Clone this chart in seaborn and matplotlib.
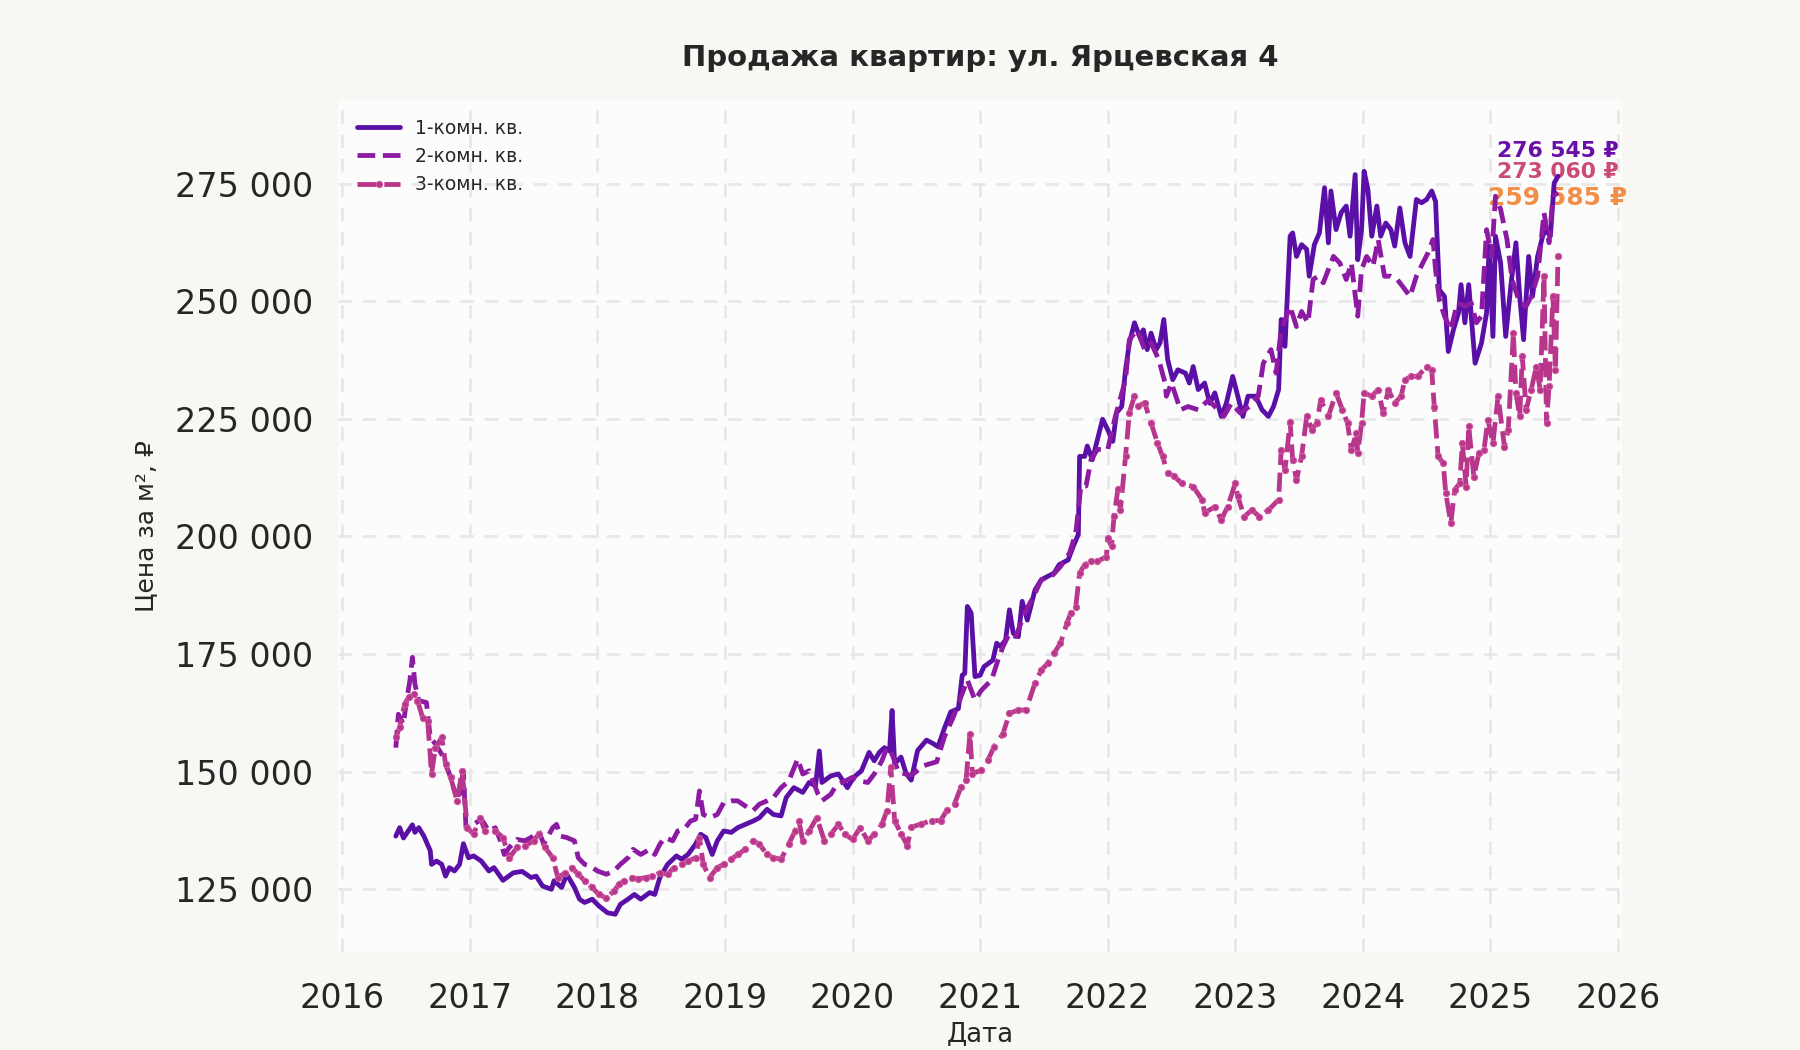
import numpy as np
import pandas as pd
import seaborn as sns
import matplotlib.pyplot as plt
from matplotlib.ticker import FuncFormatter

OUTPUT_PATH = "out.png"

TITLE = "Продажа квартир: ул. Ярцевская 4"
SERIES_NAMES = ["1-комн. кв.", "2-комн. кв.", "3-комн. кв."]
YEAR_TICKS = list(range(2016, 2027))
PRICE_TICKS = [125000, 150000, 175000, 200000, 225000, 250000, 275000]

# 1-комн.: (год, тыс. руб. за м²)
dates_1 = [
    2016.42, 2016.45, 2016.48, 2016.55, 2016.57, 2016.60, 2016.64, 2016.69, 2016.70, 2016.74,
    2016.78, 2016.81, 2016.84, 2016.88, 2016.92, 2016.95, 2016.99, 2017.03, 2017.09, 2017.15,
    2017.19, 2017.26, 2017.34, 2017.41, 2017.48, 2017.52, 2017.57, 2017.64, 2017.66, 2017.72,
    2017.76, 2017.82, 2017.86, 2017.90, 2017.96, 2018.01, 2018.08, 2018.14, 2018.18, 2018.24,
    2018.29, 2018.34, 2018.41, 2018.45, 2018.49, 2018.55, 2018.62, 2018.66, 2018.71, 2018.77,
    2018.81, 2018.85, 2018.90, 2018.94, 2018.99, 2019.05, 2019.10, 2019.16, 2019.22, 2019.27,
    2019.33, 2019.38, 2019.44, 2019.48, 2019.54, 2019.61, 2019.66, 2019.71, 2019.74, 2019.76,
    2019.83, 2019.89, 2019.96, 2020.01, 2020.07, 2020.13, 2020.17, 2020.21, 2020.25, 2020.29,
    2020.31, 2020.33, 2020.38, 2020.42, 2020.46, 2020.51, 2020.58, 2020.63, 2020.67, 2020.72,
    2020.77, 2020.83, 2020.86, 2020.88, 2020.90, 2020.93, 2020.96, 2021.00, 2021.03, 2021.10,
    2021.13, 2021.16, 2021.20, 2021.23, 2021.26, 2021.30, 2021.33, 2021.37, 2021.43, 2021.48,
    2021.53, 2021.58, 2021.62, 2021.69, 2021.73, 2021.77, 2021.78, 2021.82, 2021.84, 2021.88,
    2021.92, 2021.96, 2022.00, 2022.04, 2022.07, 2022.11, 2022.14, 2022.17, 2022.21, 2022.25,
    2022.28, 2022.31, 2022.34, 2022.38, 2022.41, 2022.44, 2022.47, 2022.51, 2022.55, 2022.61,
    2022.64, 2022.67, 2022.71, 2022.76, 2022.80, 2022.84, 2022.89, 2022.93, 2022.98, 2023.02,
    2023.06, 2023.10, 2023.16, 2023.21, 2023.26, 2023.30, 2023.34, 2023.36, 2023.39, 2023.43,
    2023.45, 2023.48, 2023.52, 2023.56, 2023.58, 2023.62, 2023.66, 2023.70, 2023.73, 2023.75,
    2023.79, 2023.83, 2023.87, 2023.90, 2023.94, 2023.96, 2023.99, 2024.01, 2024.04, 2024.07,
    2024.11, 2024.14, 2024.18, 2024.22, 2024.25, 2024.29, 2024.33, 2024.37, 2024.42, 2024.46,
    2024.50, 2024.54, 2024.57, 2024.60, 2024.64, 2024.67, 2024.71, 2024.75, 2024.77, 2024.80,
    2024.83, 2024.88, 2024.93, 2024.97, 2024.99, 2025.02, 2025.04, 2025.08, 2025.12, 2025.16,
    2025.20, 2025.23, 2025.26, 2025.30, 2025.33, 2025.37, 2025.41, 2025.43, 2025.47, 2025.50,
    2025.53,
]
price_1 = [
    136.3, 138.1, 135.9, 138.7, 137.1, 138.1, 136.3, 133.2, 130.3, 131.0,
    130.3, 127.8, 129.6, 128.9, 130.3, 134.7, 131.7, 132.1, 131.0, 128.9,
    129.6, 126.9, 128.5, 128.8, 127.5, 127.8, 125.7, 125.0, 126.8, 125.4,
    128.2, 125.4, 122.9, 122.2, 122.9, 121.5, 120.0, 119.7, 121.8, 122.9,
    123.9, 122.9, 124.3, 123.9, 127.5, 130.3, 132.1, 131.4, 132.4, 134.6,
    136.7, 136.0, 132.4, 135.3, 137.4, 137.1, 138.1, 138.8, 139.5, 140.2,
    142.0, 140.9, 140.6, 144.5, 146.6, 145.6, 147.7, 147.0, 154.4, 147.7,
    149.1, 149.5, 146.6, 148.8, 150.2, 154.1, 152.3, 154.1, 155.1, 154.4,
    163.0, 151.7, 153.1, 149.6, 148.2, 154.5, 156.7, 156.0, 155.3, 159.2,
    162.7, 163.4, 170.5, 170.9, 185.1, 183.7, 170.2, 170.5, 172.3, 173.7,
    177.3, 176.6, 178.0, 184.4, 179.4, 178.7, 186.2, 182.2, 188.6, 190.8,
    191.5, 192.2, 194.0, 195.0, 197.9, 200.4, 217.0, 217.0, 219.2, 216.3,
    220.6, 224.9, 222.7, 220.2, 226.3, 227.6, 235.4, 241.1, 245.4, 242.5,
    243.9, 239.7, 243.2, 239.7, 241.1, 246.1, 237.6, 233.3, 235.4, 234.7,
    232.6, 236.1, 231.2, 232.6, 228.3, 230.5, 225.5, 228.3, 234.0, 229.8,
    225.5, 229.8, 229.8, 226.9, 225.5, 227.6, 231.2, 246.1, 240.4, 263.8,
    264.5, 259.5, 262.0, 261.0, 255.3, 262.0, 264.5, 274.1, 262.4, 273.4,
    265.2, 268.8, 270.2, 263.8, 276.9, 258.8, 265.2, 277.6, 273.7, 263.8,
    270.2, 263.8, 266.6, 265.2, 261.7, 269.8, 262.4, 259.5, 271.6, 270.9,
    271.6, 273.4, 271.2, 252.4, 251.0, 239.3, 243.9, 247.5, 253.5, 245.4,
    253.5, 236.8, 241.1, 247.5, 261.7, 242.5, 263.8, 258.1, 242.5, 253.2,
    262.4, 251.0, 241.8, 259.5, 251.0, 259.5, 263.8, 265.2, 263.8, 275.1,
    276.545,
]

# 2-комн.
dates_2 = [
    2016.42, 2016.44, 2016.48, 2016.50, 2016.53, 2016.55, 2016.57, 2016.60, 2016.66, 2016.69,
    2016.73, 2016.78, 2016.84, 2016.88, 2016.92, 2016.95, 2016.97, 2017.03, 2017.09, 2017.15,
    2017.20, 2017.24, 2017.27, 2017.31, 2017.37, 2017.43, 2017.48, 2017.54, 2017.58, 2017.65,
    2017.68, 2017.71, 2017.76, 2017.82, 2017.85, 2017.90, 2017.94, 2018.00, 2018.07, 2018.13,
    2018.18, 2018.24, 2018.28, 2018.34, 2018.41, 2018.45, 2018.49, 2018.53, 2018.59, 2018.63,
    2018.69, 2018.73, 2018.77, 2018.80, 2018.83, 2018.88, 2018.94, 2018.99, 2019.05, 2019.10,
    2019.16, 2019.22, 2019.27, 2019.33, 2019.38, 2019.44, 2019.50, 2019.57, 2019.61, 2019.66,
    2019.73, 2019.76, 2019.83, 2019.87, 2019.94, 2020.00, 2020.06, 2020.12, 2020.17, 2020.23,
    2020.27, 2020.31, 2020.36, 2020.46, 2020.56, 2020.66, 2020.72, 2020.79, 2020.86, 2020.90,
    2020.96, 2021.01, 2021.09, 2021.14, 2021.18, 2021.23, 2021.28, 2021.35, 2021.43, 2021.48,
    2021.56, 2021.63, 2021.70, 2021.75, 2021.79, 2021.83, 2021.87, 2021.92, 2022.00, 2022.06,
    2022.14, 2022.17, 2022.23, 2022.29, 2022.34, 2022.40, 2022.45, 2022.46, 2022.50, 2022.57,
    2022.63, 2022.71, 2022.79, 2022.84, 2022.91, 2022.97, 2023.04, 2023.11, 2023.18, 2023.22,
    2023.28, 2023.32, 2023.36, 2023.43, 2023.48, 2023.52, 2023.57, 2023.61, 2023.65, 2023.69,
    2023.73, 2023.77, 2023.82, 2023.87, 2023.91, 2023.96, 2023.99, 2024.03, 2024.08, 2024.12,
    2024.17, 2024.22, 2024.27, 2024.31, 2024.37, 2024.42, 2024.47, 2024.51, 2024.55, 2024.57,
    2024.60, 2024.64, 2024.69, 2024.74, 2024.80, 2024.85, 2024.89, 2024.93, 2024.97, 2025.01,
    2025.04, 2025.08, 2025.13, 2025.17, 2025.23, 2025.28, 2025.32, 2025.37, 2025.42, 2025.46,
    2025.49, 2025.53,
]
price_2 = [
    155.1, 162.2, 160.1, 164.4, 169.3, 174.3, 168.6, 165.1, 164.7, 157.3,
    155.9, 153.7, 149.5, 145.9, 145.2, 150.2, 138.1, 138.8, 139.9, 137.4,
    138.1, 135.3, 132.4, 133.9, 135.6, 135.3, 136.0, 137.4, 134.6, 138.1,
    138.8, 136.3, 136.0, 135.3, 131.7, 130.3, 130.0, 128.9, 128.2, 128.9,
    130.3, 131.7, 133.5, 132.4, 133.5, 132.4, 134.6, 136.0, 135.3, 137.4,
    138.1, 139.5, 139.9, 145.9, 140.9, 140.2, 140.9, 143.4, 143.8, 143.8,
    142.7, 141.7, 143.1, 143.8, 144.5, 146.6, 148.0, 152.7, 149.5, 150.2,
    145.2, 143.8, 145.2, 147.0, 148.0, 148.8, 148.0, 147.7, 149.5, 152.3,
    155.1, 153.7, 149.9, 149.2, 151.3, 152.1, 157.4, 161.6, 166.6, 169.5,
    165.2, 167.3, 169.5, 173.7, 176.6, 179.4, 178.7, 183.7, 187.9, 190.8,
    191.5, 193.6, 196.4, 200.7, 210.7, 210.7, 216.3, 218.5, 218.4, 225.5,
    233.3, 241.8, 243.9, 239.7, 241.1, 237.6, 232.6, 229.8, 232.6, 226.9,
    227.6, 226.9, 229.0, 227.6, 225.5, 228.3, 226.2, 227.6, 229.8, 236.8,
    239.7, 234.7, 243.9, 248.9, 244.6, 247.8, 245.4, 254.6, 255.3, 253.9,
    256.7, 259.5, 258.1, 254.6, 258.1, 246.8, 256.7, 259.5, 257.4, 263.1,
    255.3, 255.3, 254.6, 253.2, 251.0, 255.3, 258.1, 260.2, 263.1, 256.7,
    250.3, 246.8, 243.9, 249.6, 248.9, 249.6, 245.4, 246.8, 265.2, 259.5,
    272.3, 269.5, 263.1, 254.6, 249.6, 248.9, 251.0, 255.3, 268.8, 262.4,
    272.3, 273.06,
]

# 3-комн.
dates_3 = [
    2016.42, 2016.45, 2016.49, 2016.52, 2016.56, 2016.59, 2016.63, 2016.67, 2016.70, 2016.73,
    2016.78, 2016.81, 2016.85, 2016.90, 2016.94, 2016.98, 2017.03, 2017.08, 2017.12, 2017.20,
    2017.26, 2017.31, 2017.37, 2017.43, 2017.50, 2017.54, 2017.59, 2017.65, 2017.69, 2017.75,
    2017.80, 2017.85, 2017.90, 2017.96, 2018.01, 2018.07, 2018.13, 2018.17, 2018.21, 2018.27,
    2018.32, 2018.38, 2018.43, 2018.49, 2018.55, 2018.60, 2018.66, 2018.71, 2018.77, 2018.80,
    2018.83, 2018.88, 2018.94, 2018.99, 2019.05, 2019.10, 2019.16, 2019.22, 2019.27, 2019.33,
    2019.38, 2019.44, 2019.50, 2019.55, 2019.58, 2019.61, 2019.66, 2019.72, 2019.78, 2019.83,
    2019.89, 2019.94, 2020.00, 2020.06, 2020.12, 2020.17, 2020.23, 2020.27, 2020.30, 2020.33,
    2020.38, 2020.43, 2020.46, 2020.54, 2020.62, 2020.69, 2020.74, 2020.80, 2020.85, 2020.89,
    2020.92, 2020.94, 2021.01, 2021.06, 2021.11, 2021.18, 2021.23, 2021.30, 2021.36, 2021.43,
    2021.48, 2021.53, 2021.58, 2021.63, 2021.68, 2021.71, 2021.75, 2021.78, 2021.82, 2021.87,
    2021.92, 2021.99, 2022.00, 2022.03, 2022.05, 2022.08, 2022.10, 2022.14, 2022.17, 2022.21,
    2022.24, 2022.29, 2022.34, 2022.39, 2022.43, 2022.47, 2022.52, 2022.58, 2022.67, 2022.74,
    2022.76, 2022.84, 2022.89, 2022.94, 2023.00, 2023.02, 2023.07, 2023.13, 2023.19, 2023.26,
    2023.34, 2023.36, 2023.39, 2023.43, 2023.45, 2023.48, 2023.52, 2023.56, 2023.60, 2023.64,
    2023.67, 2023.73, 2023.79, 2023.84, 2023.88, 2023.91, 2023.95, 2023.96, 2023.99, 2024.01,
    2024.07, 2024.12, 2024.16, 2024.20, 2024.25, 2024.30, 2024.33, 2024.38, 2024.43, 2024.50,
    2024.54, 2024.56, 2024.59, 2024.63, 2024.65, 2024.69, 2024.72, 2024.76, 2024.78, 2024.81,
    2024.83, 2024.87, 2024.91, 2024.95, 2024.98, 2025.02, 2025.06, 2025.11, 2025.14, 2025.18,
    2025.20, 2025.23, 2025.25, 2025.28, 2025.32, 2025.36, 2025.39, 2025.42, 2025.44, 2025.46,
    2025.49, 2025.51, 2025.53,
]
price_3 = [
    157.3, 159.4, 164.4, 165.8, 166.5, 165.1, 161.5, 160.8, 149.5, 155.1,
    157.3, 151.6, 148.8, 143.8, 150.2, 138.1, 136.7, 140.2, 137.4, 137.4,
    136.0, 131.7, 133.9, 134.2, 135.3, 136.7, 133.9, 131.7, 127.5, 128.5,
    129.6, 128.2, 126.8, 125.4, 123.9, 123.2, 124.6, 126.1, 126.8, 127.5,
    127.2, 127.5, 127.8, 128.5, 128.2, 129.6, 130.3, 131.0, 131.7, 136.0,
    130.3, 127.5, 129.6, 130.3, 131.4, 132.4, 133.5, 135.3, 134.6, 132.4,
    131.7, 131.4, 134.6, 137.4, 139.5, 135.3, 137.4, 140.2, 135.3, 136.7,
    138.8, 136.7, 135.6, 138.1, 135.3, 136.7, 138.8, 141.7, 151.0, 139.6,
    136.8, 134.3, 138.2, 138.9, 139.6, 139.6, 141.8, 143.2, 146.7, 148.2,
    158.1, 149.6, 150.3, 152.4, 155.3, 158.1, 162.4, 163.1, 163.1, 168.8,
    171.6, 173.0, 175.2, 177.3, 181.5, 183.7, 185.1, 192.2, 194.0, 194.7,
    194.7, 195.7, 199.6, 197.9, 204.3, 210.0, 205.7, 217.0, 226.3, 229.8,
    227.7, 228.4, 224.1, 219.9, 217.0, 213.5, 212.8, 211.3, 210.6, 207.8,
    205.0, 206.3, 203.5, 206.3, 211.3, 208.5, 204.2, 205.6, 204.2, 205.6,
    207.8, 218.4, 214.1, 224.4, 216.3, 212.0, 217.0, 225.5, 222.7, 224.1,
    229.0, 225.5, 230.5, 226.9, 224.1, 218.4, 222.0, 217.7, 224.1, 230.5,
    229.8, 231.2, 226.2, 231.2, 228.3, 229.8, 233.3, 234.0, 234.0, 236.1,
    235.4, 227.6, 217.0, 215.6, 209.2, 202.8, 209.9, 211.3, 219.8, 210.6,
    223.4, 212.7, 217.7, 218.4, 224.8, 219.8, 229.8, 219.1, 222.7, 243.2,
    230.5, 225.5, 238.3, 226.9, 231.2, 236.1, 231.2, 255.3, 224.1, 231.9,
    251.0, 235.4, 259.585,
]

LINE_COLORS = ["#5a0fa6", "#8c1aa2", "#b8368c"]
LABEL_COLORS = ["#6a0ea8", "#cc4a78", "#f18f48"]
LABEL_SIZES = [10.5, 10.5, 12]
LABEL_OFFSETS = [12, 10, 28]


def build_frame():
    parts = []
    for name, d, p in zip(SERIES_NAMES, [dates_1, dates_2, dates_3], [price_1, price_2, price_3]):
        parts.append(pd.DataFrame({"year": d, "price": np.array(p) * 1000, "type": name}))
    return pd.concat(parts, ignore_index=True)


def plot(df):
    sns.set_theme(style="whitegrid")
    plt.rcParams["font.family"] = ["DejaVu Sans"]

    fig = plt.figure(figsize=(12, 7), dpi=150, facecolor="#f8f7f3")
    ax = fig.add_axes([0.188, 0.093, 0.713, 0.812])
    ax.set_facecolor("#fcfcfd")

    styles = [
        dict(linestyle="-"),
        dict(linestyle="--"),
        dict(linestyle=(0, (4, 1.6)), marker="o", markersize=3, markeredgewidth=0.5,
             markeredgecolor="#d05a9e"),
    ]
    for name, color, st in zip(SERIES_NAMES, LINE_COLORS, styles):
        sub = df[df["type"] == name]
        sns.lineplot(data=sub, x="year", y="price", ax=ax, color=color,
                     linewidth=2.3, label=name, zorder=2, **st)

    # подписи последних значений
    for name, color, size, off in zip(SERIES_NAMES, LABEL_COLORS, LABEL_SIZES, LABEL_OFFSETS):
        sub = df[df["type"] == name]
        x_last, y_last = sub["year"].iloc[-1], sub["price"].iloc[-1]
        ax.annotate(f"{y_last:,.0f} ₽".replace(",", " "), xy=(x_last, y_last),
                    xytext=(0, off), textcoords="offset points", ha="center", va="center",
                    fontsize=size, fontweight="bold", color=color, zorder=1)

    ax.set_xlim(2015.97, 2026.03)
    ax.set_ylim(111600, 292800)
    ax.set_xticks(YEAR_TICKS)
    ax.set_yticks(PRICE_TICKS)
    ax.yaxis.set_major_formatter(FuncFormatter(lambda v, _: f"{v:,.0f}".replace(",", " ")))
    ax.tick_params(axis="both", labelsize=16, colors="#262626", length=0)
    ax.tick_params(axis="x", pad=14)
    ax.tick_params(axis="y", pad=12)

    ax.grid(True, linestyle=(0, (5, 4)), color="#e8e6e8", linewidth=1.3)
    for s in ax.spines.values():
        s.set_visible(False)

    ax.set_title(TITLE, fontsize=14, fontweight="bold", color="#262626", pad=16)
    ax.set_xlabel("Дата", fontsize=12.5, color="#262626", labelpad=3)
    ax.set_ylabel("Цена за м², ₽", fontsize=12, color="#262626", labelpad=8)

    leg = ax.legend(loc="upper left", fontsize=9, frameon=False, handlelength=2.3,
                    borderaxespad=0.6)
    for t in leg.get_texts():
        t.set_color("#262626")

    fig.savefig(OUTPUT_PATH, dpi=150, facecolor=fig.get_facecolor())
    print(f"Saved: {OUTPUT_PATH}")


if __name__ == "__main__":
    plot(build_frame())
